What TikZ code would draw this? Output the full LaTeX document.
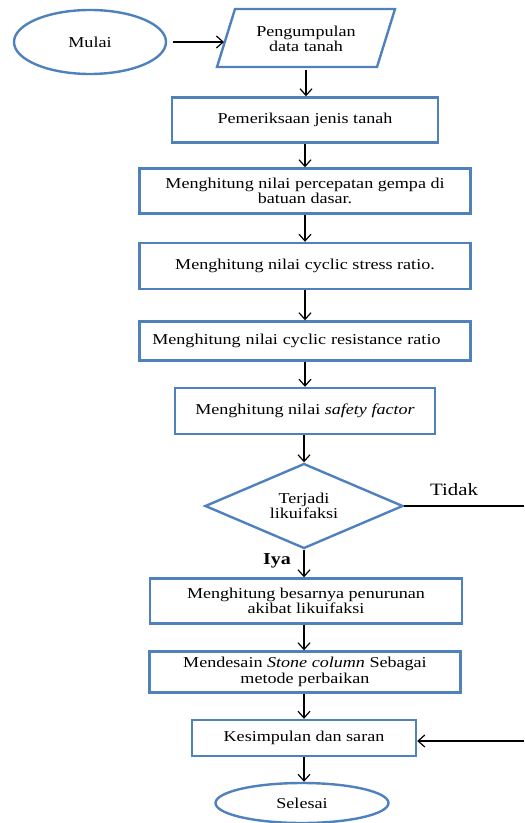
\documentclass[tikz,border=0pt]{standalone}
\usepackage{fontspec}
\setmainfont[FakeStretch=1.2]{Liberation Serif}
\usetikzlibrary{shapes.geometric,arrows.meta}
\definecolor{obl}{HTML}{4F81BD}
\begin{document}
\begin{tikzpicture}[x=0.75pt,y=-0.75pt,
  box/.style={draw=obl,line width=1.8pt,fill=white,inner sep=2pt,align=center,font=\fontsize{11.3}{11.5}\selectfont},
  term/.style={box,ellipse},
  decide/.style={box,diamond,aspect=2.33,inner sep=0pt},
  conn/.style={-{Straight Barb[length=5pt,width=9pt]},line width=0.9pt},
  lab/.style={font=\fontsize{13}{15}\selectfont}]
\useasboundingbox (0,0) rectangle (524,823);
% terminals
\node[term,minimum width=114pt,minimum height=48pt] (mulai) at (90,42) {Mulai};
% parallelogram
\node[inner sep=0pt,minimum width=120pt,minimum height=43.5pt,align=center,font=\fontsize{11.3}{11.5}\selectfont] (pd) at (306,39) {Pengumpulan\\data tanah};
\draw[draw=obl,line width=1.8pt,line join=miter] (235,9) -- (395,9) -- (377,67) -- (217,67) -- cycle;
\coordinate (pdb) at (306,70);
\coordinate (pdl) at (224,42);
\node[box,minimum width=199.5pt,minimum height=33.75pt] (pem) at (305,120) {Pemeriksaan jenis tanah};
\node[box,minimum width=248.25pt,minimum height=33.75pt] (acc) at (305,191) {Menghitung nilai percepatan gempa di\\batuan dasar.};
\node[box,minimum width=248.25pt,minimum height=34.5pt] (csr) at (305,266) {Menghitung nilai cyclic stress ratio.};
\node[box,minimum width=248.25pt,minimum height=29.25pt,text width=236pt,align=left] (crr) at (305,341) {\hspace*{3.5pt}Menghitung nilai cyclic resistance ratio};
\node[box,minimum width=195pt,minimum height=34.5pt] (sf) at (305,411) {Menghitung nilai \textit{safety factor}};
\node[decide,minimum width=148.5pt,minimum height=63.75pt] (dia) at (304,506) {Terjadi\\likuifaksi};
\node[box,minimum width=234pt,minimum height=33.75pt] (pen) at (306,601) {Menghitung besarnya penurunan\\akibat likuifaksi};
\node[box,minimum width=233.25pt,minimum height=30.75pt] (stone) at (305,672) {Mendesain \textit{Stone column} Sebagai\\metode perbaikan};
\node[box,minimum width=168pt,minimum height=27pt] (kes) at (304,738) {Kesimpulan dan saran};
\node[term,minimum width=129.75pt,minimum height=30pt] (sel) at (302,803) {Selesai};
% labels
\node[lab] (tidak) at (454,490) {Tidak};
\node[lab,font=\fontsize{12.5}{14}\selectfont\bfseries] (iya) at (277,561) {Iya};
% connectors
\draw[conn] (173,42) -- (pdl);
\draw[conn] (pdb) -- (pdb |- pem.north);
\draw[conn] (pem) -- (acc);
\draw[conn] (acc) -- (csr);
\draw[conn] (csr) -- (crr);
\draw[conn] (crr) -- (sf);
\draw[conn] (sf.south -| dia.north) -- (dia.north);
\draw[conn] (dia.south) -- (dia.south |- pen.north);
\draw[conn] (dia.south |- pen.south) -- (dia.south |- stone.north);
\draw[conn] (dia.south |- stone.south) -- (dia.south |- kes.north);
\draw[conn] (dia.south |- kes.south) -- (dia.south |- sel.north);
\coordinate (tend) at (524,506);
\coordinate (kend) at (524,741);
\draw[line width=0.9pt] (dia.east) -- (tend);
\draw[conn] (kend) -- (kes.east |- kend);
\end{tikzpicture}
\end{document}
